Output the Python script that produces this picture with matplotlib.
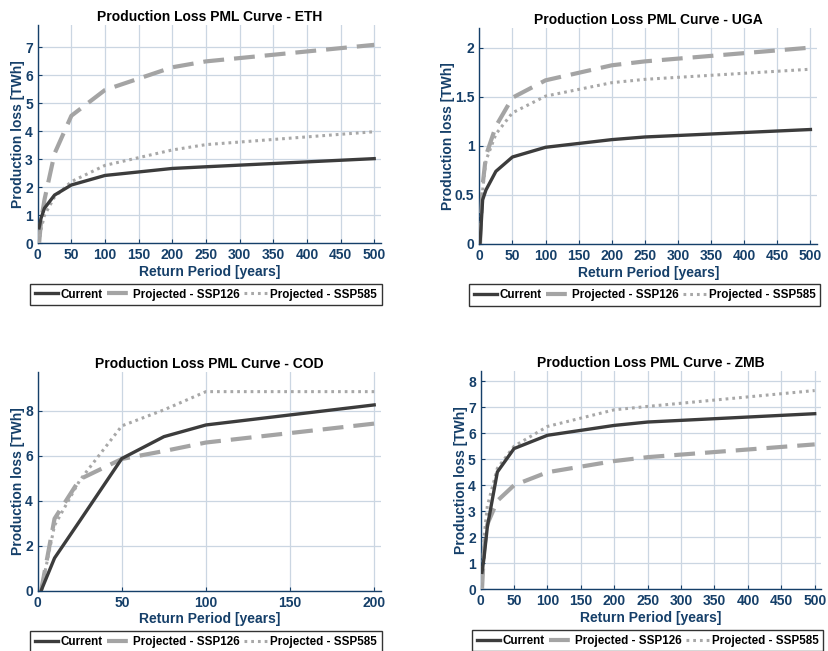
import matplotlib
matplotlib.use("Agg")
import matplotlib.pyplot as plt
from matplotlib.ticker import FuncFormatter

plt.rcParams["font.family"] = ["Liberation Sans", "DejaVu Sans"]
plt.rcParams["font.weight"] = "bold"

NAVY = "#153f69"
GRID = "#cbd6e2"

# return periods [years] and losses [TWh] per country
eth_rp = [2, 5, 10, 25, 50, 100, 200, 250, 500]
eth_current = [0.55, 0.9, 1.25, 1.72, 2.08, 2.42, 2.67, 2.73, 3.02]
eth_ssp126 = [0.0, 0.8, 1.55, 3.2, 4.55, 5.47, 6.28, 6.49, 7.08]
eth_ssp585 = [0.0, 0.5, 1.0, 1.65, 2.2, 2.78, 3.33, 3.52, 3.98]

uga_rp = [1, 5, 10, 25, 50, 100, 200, 250, 500]
uga_current = [0.0, 0.45, 0.55, 0.74, 0.886, 0.985, 1.063, 1.09, 1.166]
uga_ssp126 = [0.0, 0.6, 0.9, 1.2, 1.49, 1.667, 1.82, 1.86, 2.0]
uga_ssp585 = [0.0, 0.55, 0.85, 1.12, 1.336, 1.506, 1.643, 1.677, 1.78]

cod_rp = [2, 10, 25, 50, 75, 100, 200]
cod_current = [0.0, 1.45, 3.1, 5.87, 6.84, 7.36, 8.25]
cod_ssp126 = [0.0, 3.2, 4.95, 5.85, 6.2, 6.58, 7.42]
cod_ssp585 = [0.0, 2.9, 4.9, 7.32, 8.03, 8.84, 8.84]

zmb_rp = [2, 5, 10, 25, 50, 100, 200, 250, 500]
zmb_current = [0.65, 1.2, 2.4, 4.51, 5.41, 5.92, 6.3, 6.43, 6.75]
zmb_ssp126 = [0.0, 1.5, 2.5, 3.4, 4.0, 4.5, 4.93, 5.08, 5.57]
zmb_ssp585 = [0.0, 2.0, 3.2, 4.65, 5.5, 6.26, 6.9, 7.03, 7.64]

panels = [
    ("ETH", eth_rp, eth_current, eth_ssp126, eth_ssp585, 500, 50, 1.0,
     [0.0455, 0.6263, 0.414, 0.3353]),
    ("UGA", uga_rp, uga_current, uga_ssp126, uga_ssp585, 500, 50, 0.5,
     [0.5782, 0.6252, 0.4074, 0.3318]),
    ("COD", cod_rp, cod_current, cod_ssp126, cod_ssp585, 200, 50, 2.0,
     [0.0455, 0.0926, 0.414, 0.3364]),
    ("ZMB", zmb_rp, zmb_current, zmb_ssp126, zmb_ssp585, 500, 50, 1.0,
     [0.5798, 0.0948, 0.4110, 0.3358]),
]

fig = plt.figure(figsize=(8.29, 6.51), dpi=100)

for name, rp, cur, s126, s585, xmax, xstep, ystep, rect in panels:
    ax = fig.add_axes(rect)
    ax.plot(rp, cur, color="#3c3c3c", lw=2.4, label="Current", zorder=4)
    ax.plot(rp, s126, color="#a4a4a4", lw=3.0, dashes=(5, 2.4),
            label="Projected - SSP126", zorder=3)
    ax.plot(rp, s585, color="#a8a8a8", lw=2.2, dashes=(0.9, 1.3),
            label="Projected - SSP585", zorder=3)

    ymax = max(max(cur), max(s126), max(s585)) * 1.1
    ax.set_xlim(0, xmax * 1.02)
    ax.set_ylim(0, ymax)
    ax.set_xticks(range(0, xmax + 1, xstep))
    n = int(ymax / ystep + 1e-9)
    ax.set_yticks([i * ystep for i in range(n + 1)])
    ax.yaxis.set_major_formatter(FuncFormatter(lambda v, p: f"{v:g}"))

    ax.grid(True, color=GRID, lw=0.9)
    ax.set_axisbelow(True)
    for side in ("top", "right"):
        ax.spines[side].set_visible(False)
    for side in ("left", "bottom"):
        ax.spines[side].set_color(NAVY)
        ax.spines[side].set_linewidth(1.0)
    ax.tick_params(colors=NAVY, labelsize=10, direction="in", length=3, width=0.8)
    for lab in ax.get_xticklabels() + ax.get_yticklabels():
        lab.set_fontweight("bold")

    ax.set_xlabel("Return Period [years]", color=NAVY, fontsize=10,
                  fontweight="bold", labelpad=2)
    ax.set_ylabel("Production loss [TWh]", color=NAVY, fontsize=10,
                  fontweight="bold", labelpad=0)
    ax.set_title(f"Production Loss PML Curve - {name}", fontsize=10,
                 fontweight="bold", color="black", pad=3)

    leg = ax.legend(loc="upper center", bbox_to_anchor=(0.49, -0.186), ncol=3,
                    frameon=True, fancybox=False, borderaxespad=0,
                    prop={"weight": "bold", "size": 8.4}, handlelength=2.0,
                    handletextpad=0.2, columnspacing=0.4, borderpad=0.4)
    leg.get_frame().set_edgecolor("black")
    leg.get_frame().set_linewidth(1.0)

fig.savefig("out.png", dpi=100)
